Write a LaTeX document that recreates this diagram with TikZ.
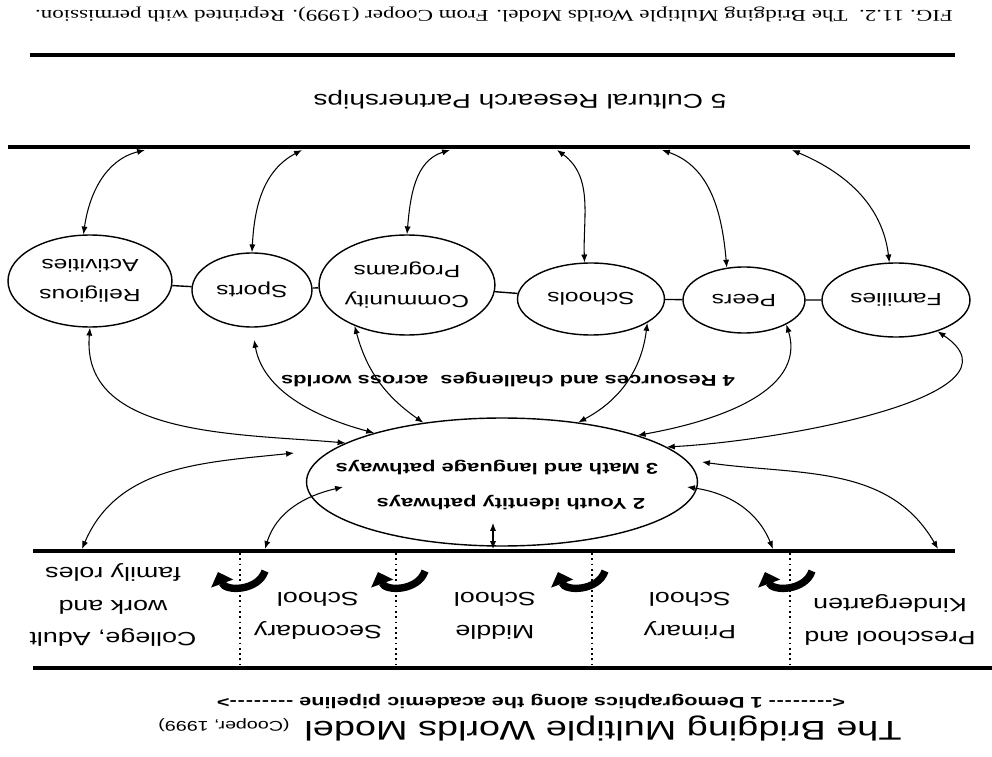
\documentclass[tikz,border=0pt]{standalone}
\usepackage{fontspec}
\setmainfont{Liberation Sans}[FakeStretch=1.4]
\newfontfamily\capfont{Liberation Serif}[FakeStretch=1.4]
\usetikzlibrary{arrows.meta,shapes.geometric}

\newcommand{\pipedash}{-\kern.5pt-\kern.5pt-\kern.5pt-\kern.5pt-\kern.5pt-\kern.5pt-\kern.5pt-}

\begin{document}
\begin{tikzpicture}[x=0.02cm,y=0.02cm,rotate=180,transform shape,
                    >={Latex[length=4.5pt,width=3.5pt]},
                    world/.style={ellipse,draw,line width=0.8pt,inner sep=0pt,align=center,
                                  font=\fontsize{10}{17}\selectfont},
                    stagetxt/.style={align=center,font=\fontsize{10.9}{18.7}\selectfont},
                    boldtxt/.style={font=\fontsize{8.9}{10}\selectfont\bfseries},
                    link/.style={<->,line width=0.6pt},
                    rule/.style={line width=1.8pt},
                    divider/.style={dotted,line width=1pt},
                    stagearrow/.style={line width=4.2pt,-{Triangle[length=7pt,width=13pt]}}]
  \useasboundingbox (0,0) rectangle (992,757);

  % heading
  \node[font=\fontsize{15.4}{18}\selectfont,anchor=base] (title) at (389,721) {The Bridging Multiple Worlds Model};
  \node[font=\fontsize{8}{9}\selectfont,anchor=base] (cite) at (768,721) {(Cooper, 1999)};
  \node[font=\fontsize{8.8}{10}\selectfont\bfseries] (demo) at (461,701)
       {<\pipedash\ 1 Demographics along the academic pipeline \pipedash>};

  % pipeline stages
  \draw[rule,line width=2.2pt] (0,668) -- (959,668);
  \draw[rule] (37,551) -- (959,551);
  \foreach \d in {752,596,400,202}
    \draw[divider] (\d,553) -- (\d,666);
  \node[stagetxt] (pre) at (102,620) {Preschool and\\Kindergarten};
  \node[stagetxt] (pri) at (302,616) {Primary\\School};
  \node[stagetxt] (mds) at (497,616) {Middle\\School};
  \node[stagetxt] (sec) at (674,616) {Secondary\\School};
  \node[stagetxt] (col) at (879,605) {College, Adult\\work and\\family roles};
  \foreach \c in {752,592,412,205}
    \draw[stagearrow] (\c-25,571) to[out=72,in=110,looseness=1.15] (\c+22,572);

  % youth pathways
  \node[ellipse,draw,line width=0.8pt,minimum width=7.82cm,minimum height=2.56cm] (mid) at (490,482) {};
  \node[boldtxt] (yid) at (481,503) {2 Youth identity pathways};
  \node[boldtxt] (mat) at (495,468) {3 Math and language pathways};
  \coordinate (a0) at (499,523);
  \coordinate (a1) at (698,453);
  \coordinate (a2) at (649,487);
  \coordinate (a3) at (305,487);
  \coordinate (a4) at (290,462);
  \coordinate (p1) at (910,549);
  \coordinate (p2) at (727,549);
  \coordinate (p3) at (499,549);
  \coordinate (p4) at (219,549);
  \coordinate (p5) at (54,549);
  \draw[link] (a1) to[out=6,in=247] (p1);
  \draw[link] (a2) to[out=13,in=253] (p2);
  \draw[link] (a0) -- (p3);
  \draw[link] (a3) to[out=172,in=292] (p4);
  \draw[link] (a4) to[out=172,in=300] (p5);

  % worlds
  \node[boldtxt] (res) at (484,380) {4 Resources and challenges~ across worlds};
  \node[world,minimum width=3.28cm,minimum height=1.84cm] (rel) at (902,281) {Religious\\Activities};
  \node[world,minimum width=2.4cm,minimum height=1.48cm] (spo) at (740,290) {Sports};
  \node[world,minimum width=3.42cm,minimum height=2cm] (com) at (585,285) {Community\\Programs};
  \node[world,minimum width=2.94cm,minimum height=1.44cm] (sch) at (401,299) {Schools};
  \node[world,minimum width=2.44cm,minimum height=1.32cm] (pee) at (248,300) {Peers};
  \node[world,minimum width=2.96cm,minimum height=1.48cm] (fam) at (96,300) {Families};
  \draw[line width=0.8pt] (fam) -- (pee) -- (sch) -- (com) -- (spo) -- (rel);
  \draw[link] (rel.north) to[out=85,in=-5] (mid.-14);
  \draw[link,shorten <=7pt] (spo.north) to[out=100,in=-15] (mid.-21);
  \draw[link] (com.38) to[out=105,in=-35] (mid.-37);
  \draw[link] (sch.157) to[out=83,in=208] (mid.-142);
  \draw[link] (pee.150) to[out=107,in=190] (mid.-161);
  \draw[link] (fam.143) to[out=146,in=183] (mid.-168);

  % research partnerships
  \draw[rule] (22,147) -- (984,147);
  \coordinate (q1) at (847,150);
  \coordinate (q2) at (690,150);
  \coordinate (q3) at (542,150);
  \coordinate (q4) at (435,150);
  \coordinate (q5) at (330,150);
  \coordinate (q6) at (200,150);
  \draw[link] (rel.-82) to[out=262,in=14] (q1);
  \draw[link] (spo.south) to[out=267,in=28] (q2);
  \draw[link] (com.south) to[out=265,in=17] (q3);
  \draw[link] (sch.-80) to[out=272,in=144] (q4);
  \draw[link] (pee.-62) to[out=275,in=161] (q5);
  \draw[link] (fam.-80) to[out=277,in=157] (q6);
  \node[font=\fontsize{11.4}{13}\selectfont] (crp) at (472,100) {5 Cultural Research Partnerships};
  \draw[rule] (37,55) -- (962,55);

  % caption
  \node[font=\capfont\fontsize{9.35}{11}\selectfont] (cap) at (498,14)
       {FIG. 11.2.\ \ The Bridging Multiple Worlds Model. From Cooper (1999). Reprinted with permission.};
\end{tikzpicture}
\end{document}
